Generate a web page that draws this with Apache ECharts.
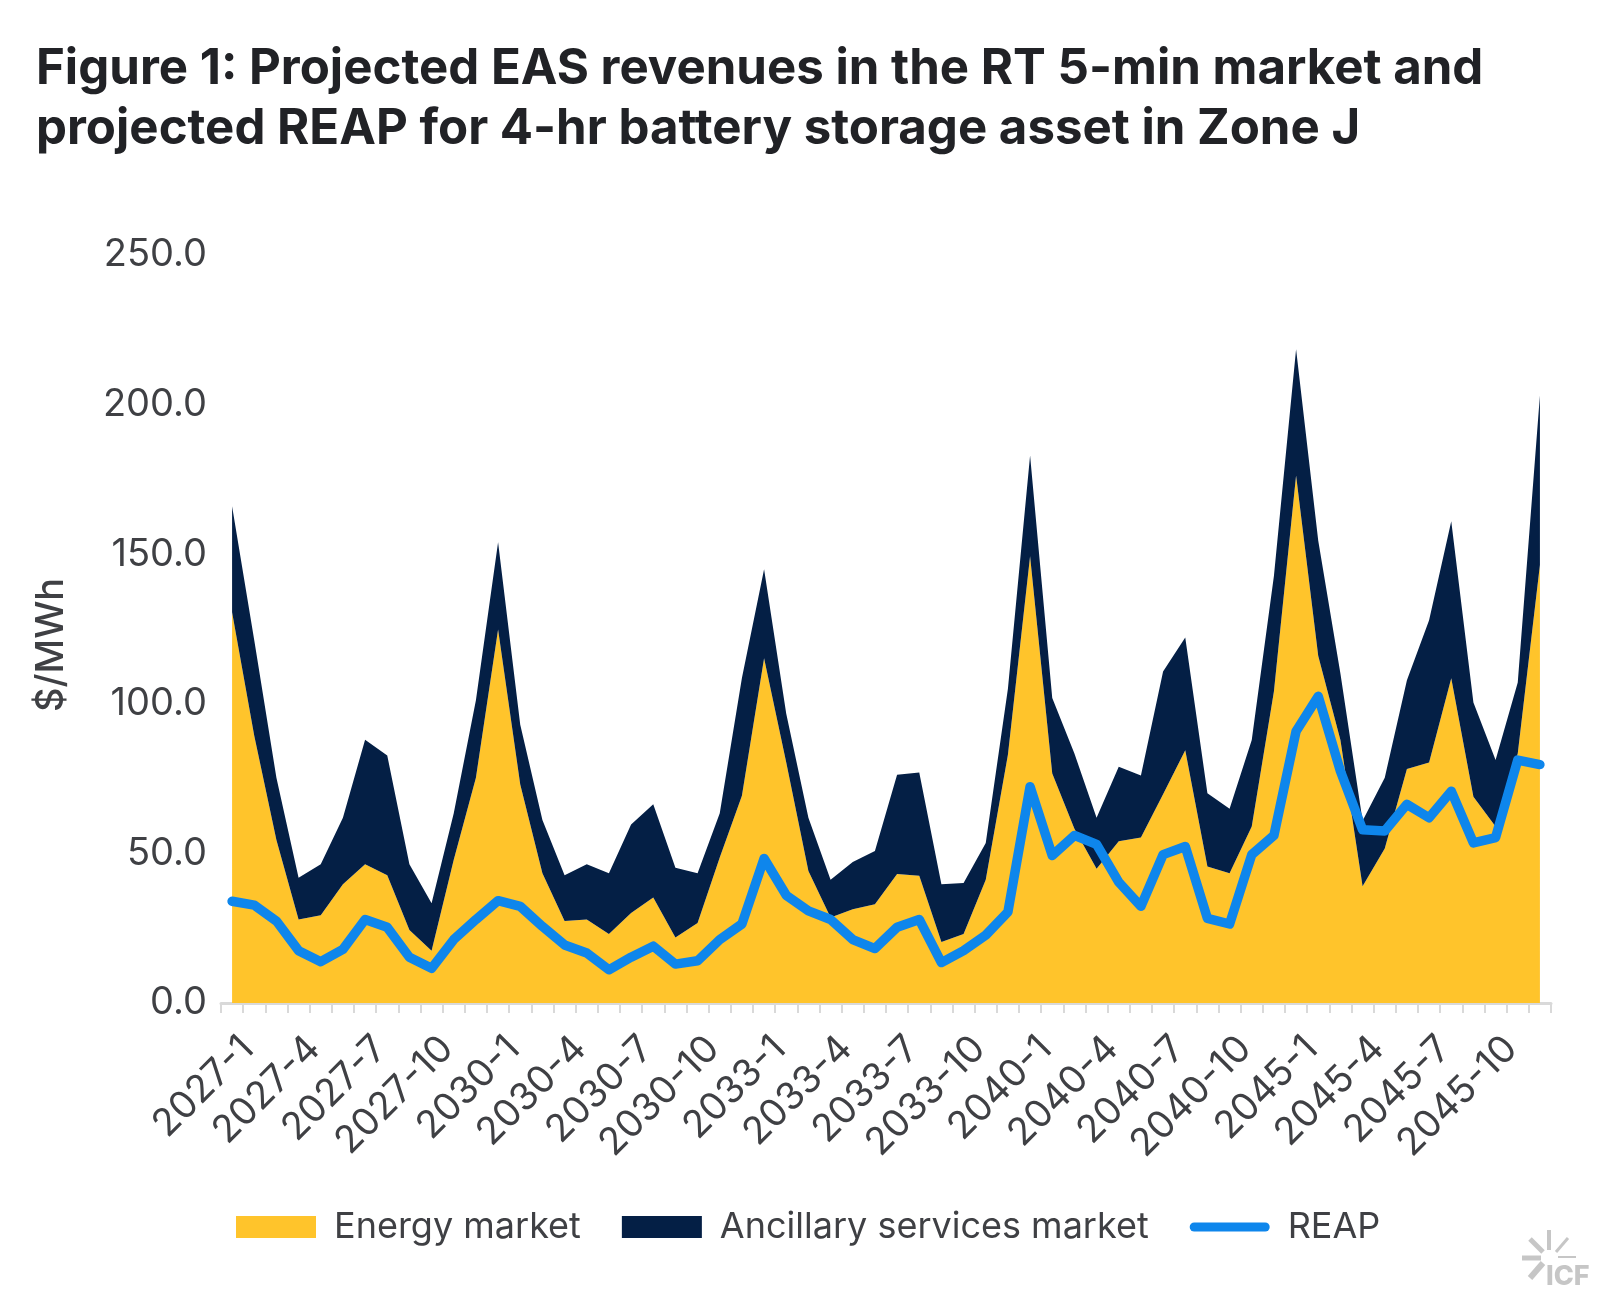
<!DOCTYPE html>
<html>
<head>
<meta charset="utf-8">
<title>Figure 1</title>
<script src="https://cdn.jsdelivr.net/npm/echarts@6/dist/echarts.min.js"></script>
<style>
  html, body { margin: 0; padding: 0; background: #fff; }
  #chart { width: 1621px; height: 1313px; }
</style>
</head>
<body>
<div id="chart"></div>
<script>
var years = ['2027', '2030', '2033', '2040', '2045'];
var months = [1, 2, 3, 4, 5, 6, 7, 8, 9, 10, 11, 12];

var energy = [130.6, 89.3, 54.5, 27.9, 29.3, 39.7, 46.4, 42.7, 24.4, 17.5, 47.9, 75.3,
  124.8, 73.0, 43.4, 27.4, 27.9, 23.1, 30.1, 35.3, 21.9, 26.7, 48.6, 69.3,
  115.2, 80.4, 44.1, 28.6, 31.3, 33.0, 43.1, 42.5, 20.4, 23.1, 41.2, 83.0,
  149.3, 76.7, 58.2, 44.9, 54.1, 55.3, 69.8, 84.5, 45.6, 43.4, 59.0, 104.1,
  176.3, 116.0, 87.9, 39.0, 51.6, 78.2, 80.4, 108.5, 68.9, 59.0, 83.4, 146.4];

var ancillary = [35.4, 31.9, 20.8, 14.0, 17.1, 22.2, 41.6, 40.0, 22.0, 15.8, 15.5, 25.9,
  29.2, 20.0, 17.8, 15.3, 18.5, 20.3, 29.6, 31.1, 23.3, 16.7, 14.8, 39.3,
  29.8, 16.3, 17.8, 12.6, 15.8, 17.8, 33.2, 34.5, 19.3, 17.0, 12.3, 22.0,
  33.7, 25.2, 25.2, 17.0, 24.9, 20.7, 41.0, 37.7, 24.5, 21.5, 28.9, 38.6,
  42.2, 38.5, 22.2, 21.9, 23.7, 29.7, 47.5, 52.5, 31.5, 22.2, 23.7, 56.6];

var reap = [34.0, 32.7, 27.4, 17.5, 13.8, 17.9, 27.9, 25.3, 15.3, 11.6, 21.2, 27.9,
  34.2, 32.3, 25.6, 19.4, 16.7, 11.1, 15.3, 19.0, 13.0, 14.1, 21.2, 26.4,
  48.3, 36.0, 30.8, 27.9, 21.2, 18.2, 25.3, 27.9, 13.5, 17.5, 22.7, 30.4,
  72.3, 49.3, 56.0, 53.0, 40.4, 32.3, 49.6, 52.3, 28.3, 26.4, 49.6, 56.0,
  90.8, 102.5, 77.5, 57.9, 57.5, 66.4, 61.9, 70.8, 53.5, 55.3, 81.2, 79.7];

var categories = [];
years.forEach(function (y) {
  months.forEach(function (m) {
    categories.push(y + '-' + m);
  });
});

var fontName = 'Inter';
var textColor = '#3f4044';
var logoColor = '#c6c6c6';
// rounded bar for the REAP legend key, the two empty moves keep the key's full height
var lineKey = 'path://M0 0L0 0M4.5 6.5L75.5 6.5A4.5 4.5 0 0 1 75.5 15.5L4.5 15.5A4.5 4.5 0 0 1 4.5 6.5ZM80 22L80 22';

var myChart = echarts.init(document.getElementById('chart'), null, { renderer: 'canvas' });

function ray(x1, y1, x2, y2, w) {
  return {
    type: 'line',
    shape: { x1: x1, y1: y1, x2: x2, y2: y2 },
    style: { stroke: logoColor, lineWidth: w }
  };
}

var option = {
  backgroundColor: '#fff',
  animation: false,
  title: {
    text: 'Figure 1: Projected EAS revenues in the RT 5-min market and\nprojected REAP for 4-hr battery storage asset in Zone J',
    left: 31,
    top: 34,
    textStyle: {
      fontFamily: fontName,
      fontSize: 49.2,
      fontWeight: 700,
      color: '#212226',
      lineHeight: 60
    }
  },
  grid: { left: 221, width: 1330, top: 255, height: 748, containLabel: false },
  legend: {
    left: 231,
    top: 1204,
    itemWidth: 80,
    itemHeight: 22,
    itemGap: 41,
    symbolKeepAspect: false,
    textStyle: { fontFamily: fontName, fontSize: 36, color: textColor, padding: [0, 0, 0, 13] },
    data: [
      { name: 'Energy market', icon: 'rect' },
      { name: 'Ancillary services market', icon: 'rect' },
      { name: 'REAP', icon: lineKey }
    ]
  },
  xAxis: {
    type: 'category',
    data: categories,
    boundaryGap: true,
    axisLine: { lineStyle: { color: '#d9d9d9', width: 3 } },
    axisTick: { show: true, interval: 0, length: 10, lineStyle: { color: '#d9d9d9', width: 2 } },
    axisLabel: {
      interval: 2,
      rotate: 45,
      margin: 24,
      fontFamily: fontName,
      fontSize: 38,
      lineHeight: 44,
      verticalAlign: 'top',
      color: textColor
    }
  },
  yAxis: {
    type: 'value',
    min: 0,
    max: 250,
    interval: 50,
    name: '$/MWh',
    nameLocation: 'middle',
    nameGap: 150,
    nameRotate: 90,
    nameTextStyle: { fontFamily: fontName, fontSize: 38, fontWeight: 500, color: textColor, padding: [0, 32, 0, 0] },
    axisLine: { show: false },
    axisTick: { show: false },
    splitLine: { show: false },
    axisLabel: {
      margin: 14,
      fontFamily: fontName,
      fontSize: 38,
      color: textColor,
      formatter: function (v) { return v.toFixed(1); }
    }
  },
  series: [
    {
      name: 'Energy market',
      type: 'line',
      stack: 'eas',
      data: energy,
      symbol: 'none',
      lineStyle: { width: 0 },
      itemStyle: { color: '#ffc42b' },
      areaStyle: { color: '#ffc42b', opacity: 1 }
    },
    {
      name: 'Ancillary services market',
      type: 'line',
      stack: 'eas',
      data: ancillary,
      symbol: 'none',
      lineStyle: { width: 0 },
      itemStyle: { color: '#041f45' },
      areaStyle: { color: '#041f45', opacity: 1 }
    },
    {
      name: 'REAP',
      type: 'line',
      data: reap,
      symbol: 'none',
      lineStyle: { width: 9.5, color: '#0e86ec', cap: 'round', join: 'round' },
      itemStyle: { color: '#0e86ec' }
    }
  ],
  graphic: [
    ray(1549, 1230, 1549, 1250, 4),
    ray(1530, 1239, 1543, 1252, 5),
    ray(1568, 1238, 1556, 1252, 3),
    ray(1522, 1258, 1541, 1258, 5),
    ray(1558, 1257, 1576, 1257, 2),
    ray(1530, 1278, 1543, 1263, 6),
    {
      type: 'text',
      left: 1546,
      top: 1263,
      style: { text: 'ICF', fontFamily: fontName, fontSize: 27, fontWeight: 800, fill: logoColor }
    }
  ]
};
myChart.setOption(option);
</script>
</body>
</html>
